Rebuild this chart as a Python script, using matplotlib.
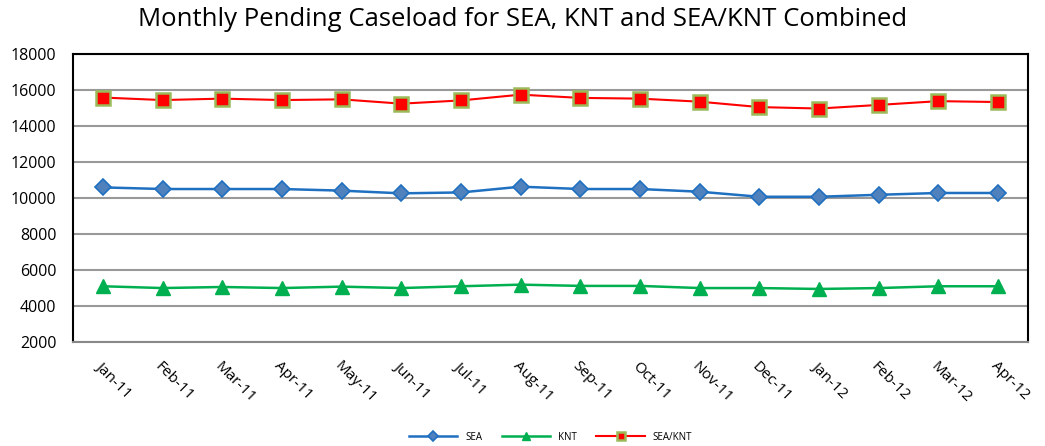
import matplotlib.pyplot as plt
from matplotlib.ticker import MultipleLocator

months = ["Jan-11", "Feb-11", "Mar-11", "Apr-11", "May-11", "Jun-11", "Jul-11", "Aug-11",
          "Sep-11", "Oct-11", "Nov-11", "Dec-11", "Jan-12", "Feb-12", "Mar-12", "Apr-12"]
sea = [10590, 10500, 10500, 10500, 10410, 10260, 10310, 10630,
       10500, 10500, 10350, 10070, 10070, 10180, 10280, 10280]
knt = [5100, 5000, 5060, 5000, 5080, 5000, 5100, 5190,
       5120, 5120, 5000, 5000, 4950, 5000, 5100, 5100]
combined = [15580, 15440, 15520, 15440, 15480, 15240, 15420, 15740,
            15560, 15520, 15350, 15050, 14970, 15170, 15380, 15330]

plt.rcParams["font.family"] = ["Open Sans", "DejaVu Sans"]

fig = plt.figure(figsize=(10.45, 4.46), dpi=100)
ax = fig.add_axes([0.0699, 0.233, 0.9138, 0.646])

x = range(len(months))
ax.plot(x, sea, color="#1F70C1", lw=1.8, marker="D", ms=8.5,
        mfc="#4F81BD", mec="#1F70C1", mew=1.2, label="SEA")
ax.plot(x, knt, color="#00B050", lw=1.8, marker="^", ms=10.5,
        mfc="#00B050", mec="#00B050", label="KNT")
ax.plot(x, combined, color="#FF0000", lw=1.5, marker="s", ms=10.5,
        mfc="#FF0000", mec="#9BBB59", mew=1.8, label="SEA/KNT")

ax.set_xlim(-0.5, len(months) - 0.5)
ax.set_ylim(2000, 18000)
ax.yaxis.set_major_locator(MultipleLocator(2000))
ax.grid(axis="y", color="#999999", lw=1.5)
ax.set_axisbelow(True)
ax.set_xticks(list(x))
ax.set_xticklabels(months, rotation=-45, ha="left", va="top",
                   rotation_mode="anchor", fontsize=11)
ax.tick_params(axis="x", length=0, pad=12)
ax.tick_params(axis="y", length=0, pad=12, labelsize=11.5)
for s in ["left", "right", "top"]:
    ax.spines[s].set_color("black")
    ax.spines[s].set_linewidth(1.5)
ax.spines["bottom"].set_color("#888888")
ax.spines["bottom"].set_linewidth(1.5)

fig.suptitle("Monthly Pending Caseload for SEA, KNT and SEA/KNT Combined",
             fontsize=18.5, y=0.985)
ax.legend(loc="center", bbox_to_anchor=(0.5, -0.33), ncol=3, frameon=False,
          fontsize=7, handlelength=5, columnspacing=2, markerscale=0.6)

fig.savefig("out.png", dpi=100)
